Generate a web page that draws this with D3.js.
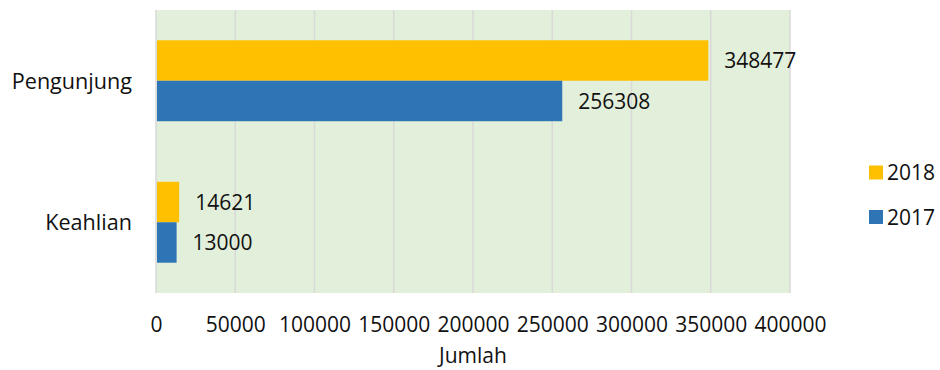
<!DOCTYPE html>
<html><head><meta charset="utf-8">
<script src="https://cdn.jsdelivr.net/npm/d3@7"></script>
<style>body{margin:0;background:#fff}svg{display:block}text{font-family:"Open Sans",sans-serif;fill:#111}</style>
</head><body><svg id="c" width="940" height="370"></svg>
<script>
const categories = ["Pengunjung", "Keahlian"];
const seriesNames = ["2018", "2017"];
const values2018 = [348477, 14621];
const values2017 = [256308, 13000];
const xTicks = [0, 50000, 100000, 150000, 200000, 250000, 300000, 350000, 400000];
const xTitle = "Jumlah";
const colors = {"2018": "#FFC000", "2017": "#2E75B6"};

const svg = d3.select("#c");
const L = 156, R = 790, T = 10, B = 293;
const x = d3.scaleLinear().domain([0, 400000]).range([L, R]);
const y = d3.scaleBand().domain(categories).range([T, B]).paddingInner(0.428).paddingOuter(0.214);
const ys = d3.scaleBand().domain(seriesNames).range([0, y.bandwidth()]);
const fs = 21;

svg.append("rect").attr("x", L).attr("y", T).attr("width", R - L).attr("height", B - T).attr("fill", "#E2EFDA");
svg.append("g").selectAll("line").data(xTicks).join("line")
  .attr("x1", d => x(d)).attr("x2", d => x(d)).attr("y1", T).attr("y2", B)
  .attr("stroke", "#D9D9D9").attr("stroke-width", 1.5);

const data = [];
categories.forEach((c, i) => {
  data.push({c, s: "2018", v: values2018[i]});
  data.push({c, s: "2017", v: values2017[i]});
});
svg.append("g").selectAll("rect").data(data).join("rect")
  .attr("x", x(0) + 1).attr("y", d => y(d.c) + ys(d.s))
  .attr("width", d => x(d.v) - x(0) - 1).attr("height", ys.bandwidth())
  .attr("fill", d => colors[d.s]);
svg.append("g").selectAll("text").data(data).join("text")
  .attr("x", d => x(d.v) + 16).attr("y", d => y(d.c) + ys(d.s) + ys.bandwidth() / 2)
  .attr("dy", "0.36em").attr("font-size", fs).text(d => d.v);

// category axis labels
svg.append("g").selectAll("text").data(categories).join("text")
  .attr("x", 132).attr("y", d => y(d) + y.bandwidth() / 2)
  .attr("dy", "0.36em").attr("text-anchor", "end").attr("font-size", 21.6).text(d => d);

// x axis labels
const xa = svg.append("g").attr("transform", `translate(0,${B})`)
  .call(d3.axisBottom(x).tickValues(xTicks).tickSize(0).tickPadding(0).tickFormat(d3.format("d")));
xa.select(".domain").remove();
xa.selectAll("text").attr("font-size", fs).attr("y", 39).attr("dy", 0).attr("fill", "#111")
  .attr("font-family", "Open Sans, sans-serif");

svg.append("text").attr("x", (L + R) / 2).attr("y", 363).attr("text-anchor", "middle")
  .attr("font-size", fs).text(xTitle);

// legend
const lg = svg.append("g").selectAll("g").data(seriesNames).join("g")
  .attr("transform", (d, i) => `translate(869,${165.5 + i * 44.5})`);
lg.append("rect").attr("width", 14).attr("height", 14).attr("fill", d => colors[d]);
lg.append("text").attr("x", 18).attr("y", 7).attr("dy", "0.36em").attr("font-size", fs).text(d => d);
</script></body></html>
